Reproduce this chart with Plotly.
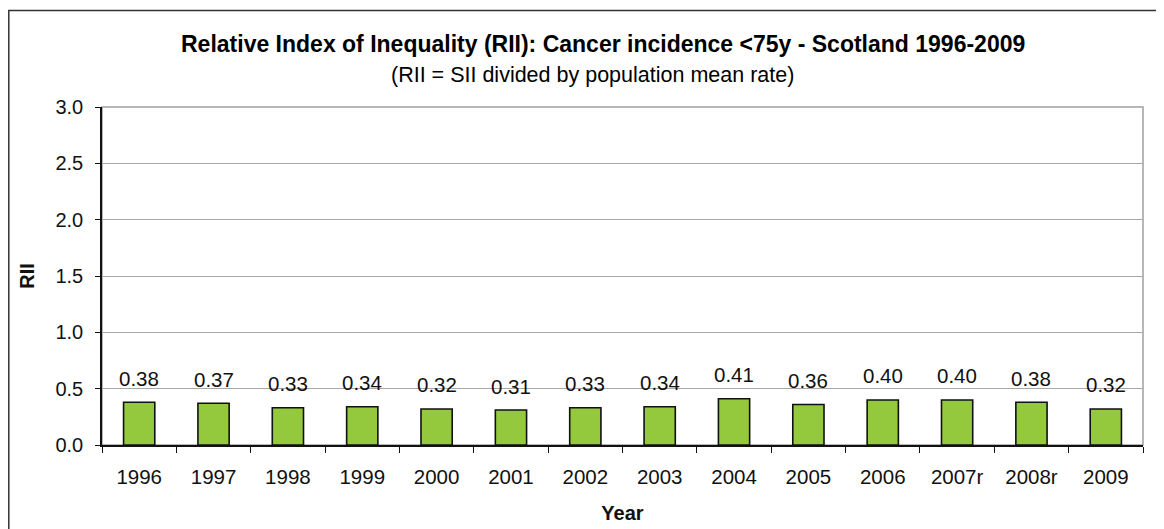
"""RII bar chart - cancer incidence <75y, Scotland 1996-2009."""
import plotly.graph_objects as go

years = ["1996", "1997", "1998", "1999", "2000", "2001", "2002",
         "2003", "2004", "2005", "2006", "2007r", "2008r", "2009"]
rii = [0.38, 0.37, 0.33, 0.34, 0.32, 0.31, 0.33,
       0.34, 0.41, 0.36, 0.40, 0.40, 0.38, 0.32]
y_ticks = [0.0, 0.5, 1.0, 1.5, 2.0, 2.5, 3.0]

FONT = "Liberation Sans, Arial, sans-serif"
# the page body has an 8px margin, so the figure is a bit smaller than the window
OFF = 8
W, H = 1164 - OFF, 529 - OFF
L, R, T, B = 102 - OFF, 21, 107 - OFF, 84


def px_x(p):
    # page pixel -> paper fraction
    return (p - OFF - L) / (W - L - R)


def px_y(p):
    return (H - B - (p - OFF)) / (H - T - B)


fig = go.Figure(
    go.Bar(
        x=years,
        y=rii,
        marker=dict(color="#95C93D", line=dict(color="#111111", width=1.6)),
        width=0.42,
        hoverinfo="x+y",
    )
)

# value labels sit a fixed distance above each bar (x = category index)
for i, v in enumerate(rii):
    fig.add_annotation(x=i, y=v, text=f"{v:.2f}", showarrow=False,
                       yshift=24, font=dict(size=20.5, color="#111111"))

fig.add_annotation(xref="paper", yref="paper", x=px_x(603), y=px_y(44),
                   xanchor="center", yanchor="middle",
                   text="<b>Relative Index of Inequality (RII): Cancer incidence &lt;75y - Scotland 1996-2009</b>",
                   showarrow=False, font=dict(size=23, color="#000000"))
fig.add_annotation(xref="paper", yref="paper", x=px_x(592), y=px_y(75),
                   xanchor="center", yanchor="middle",
                   text="(RII = SII divided by population mean rate)",
                   showarrow=False, font=dict(size=21.5, color="#000000"))

# grey frame of the plot area, outer chart border
fig.add_shape(type="rect", xref="paper", yref="paper", x0=0, x1=1, y0=0, y1=1,
              line=dict(color="#A0A0A0", width=1.5), layer="below")
fig.add_shape(type="rect", xref="paper", yref="paper",
              x0=px_x(8.8), x1=px_x(1180), y0=px_y(545), y1=px_y(10.5),
              line=dict(color="#333333", width=1.5), layer="below")

fig.update_layout(
    width=W,
    height=H,
    margin=dict(l=L, r=R, t=T, b=B, autoexpand=False),
    paper_bgcolor="white",
    plot_bgcolor="white",
    font=dict(family=FONT, size=20, color="#111111"),
    showlegend=False,
    xaxis=dict(
        type="category",
        range=[-0.5, len(years) - 0.5],
        tickson="boundaries",
        ticks="outside",
        ticklen=6,
        tickcolor="#111111",
        tickangle=0,
        showline=True,
        linecolor="#111111",
        linewidth=1.5,
        showgrid=False,
        automargin=False,
        ticklabelstandoff=13,
        tickfont=dict(size=20.5),
        title=dict(text="<b>Year</b>", font=dict(size=20), standoff=19),
    ),
    yaxis=dict(
        range=[0, 3.0],
        tickvals=y_ticks,
        tickformat=".1f",
        ticks="outside",
        ticklen=5,
        tickcolor="#111111",
        showline=True,
        linecolor="#111111",
        linewidth=1.5,
        showgrid=True,
        gridcolor="#A8A8A8",
        gridwidth=1,
        zeroline=False,
        automargin=False,
        ticklabelstandoff=8,
        tickfont=dict(size=20),
        title=dict(text="<b>RII</b>", font=dict(size=20), standoff=15),
    ),
)

fig.write_html("out.html")
